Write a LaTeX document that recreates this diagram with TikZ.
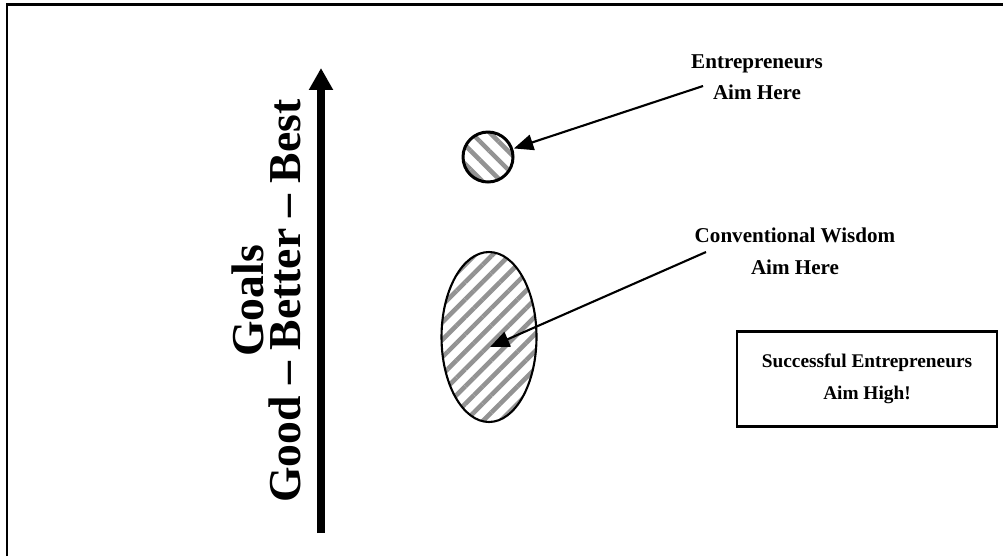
\documentclass[tikz,border=0pt]{standalone}
\usepackage{fontspec}
\setmainfont{Liberation Serif}
\usetikzlibrary{arrows.meta,shapes.geometric,patterns.meta}
\tikzstyle{frame} = [line width=1.7pt]
\tikzstyle{axislabel} = [align=center, font=\bfseries\fontsize{26}{21}\selectfont]
\tikzstyle{aimlabel} = [align=center, font=\bfseries\fontsize{12}{18}\selectfont]
\tikzstyle{hatch} = [pattern color=gray!85]
\tikzstyle{target} = [circle, draw=black, line width=1.7pt, minimum size=1cm, inner sep=0pt, hatch, pattern={Lines[angle=-45,distance=7.5pt,line width=2.6pt]}]
\tikzstyle{widetarget} = [ellipse, draw=black, line width=1.2pt, minimum width=1.9cm, minimum height=3.4cm, inner sep=0pt, hatch, pattern={Lines[angle=45,distance=7pt,line width=2.6pt]}]
\tikzstyle{motto} = [rectangle, draw=black, line width=1.4pt, align=center, minimum width=5.2cm, minimum height=1.9cm, font=\bfseries\fontsize{11}{18.5}\selectfont]
\tikzstyle{arrow} = [line width=1.2pt, -{Triangle[length=11pt,width=9pt]}]
\tikzstyle{bigarrow} = [line width=4pt, -{Triangle[length=12.5pt,width=13pt]}]

\begin{document}
\begin{tikzpicture}[x=0.02cm, y=-0.02cm]
  \useasboundingbox (0,0) rectangle (1003,556);
  \draw [frame] (7,556) -- (7,4) -- (1003,4);

  % goals axis
  \node (goals) [axislabel, rotate=90] at (266,301) {Goals\\Good -- Better -- Best};
  \coordinate (axisbottom) at (321,533);
  \coordinate (axistop) at (321,68);
  \draw [bigarrow] (axisbottom) -- (axistop);

  % targets
  \node (entrtarget) [target] at (488,157) {};
  \node (convtarget) [widetarget] at (489,337) {};

  % labels
  \node (entrlabel) [aimlabel] at (757,77) {Entrepreneurs\\Aim Here};
  \node (convlabel) [aimlabel] at (795,251) {Conventional Wisdom\\Aim Here};
  \node (motto) [motto] at (867,379) {Successful Entrepreneurs\\Aim High!};

  \coordinate (entrfrom) at (703,86);
  \coordinate (convfrom) at (706,252);
  \coordinate (convto) at (490,347);
  \draw [arrow] (entrfrom) -- (entrtarget);
  \draw [arrow] (convfrom) -- (convto);
\end{tikzpicture}
\end{document}
